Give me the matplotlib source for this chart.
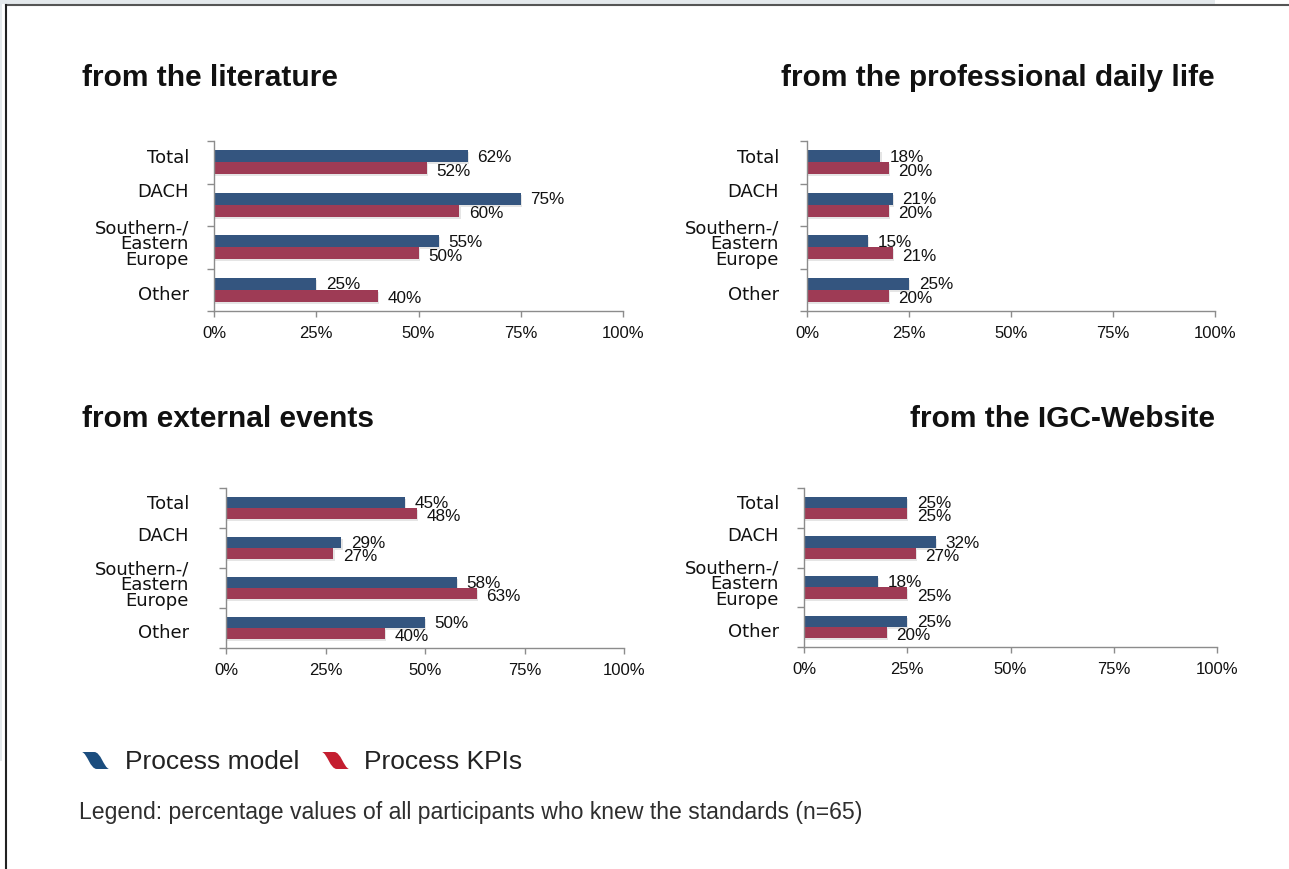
import matplotlib
matplotlib.use('Agg')
import matplotlib.pyplot as plt
import matplotlib.patheffects as pe
import matplotlib.transforms as mtransforms
from matplotlib.patches import Rectangle, PathPatch
from matplotlib.path import Path
from matplotlib.lines import Line2D
import numpy as np

# data
categories = ['Total', 'DACH', 'Southern-/\nEastern\nEurope', 'Other']
titles = ['from the literature', 'from the professional daily life',
          'from external events', 'from the IGC-Website']
series_names = ['Process model', 'Process KPIs']

literature_model = [62, 75, 55, 25]
literature_kpi = [52, 60, 50, 40]
daily_model = [18, 21, 15, 25]
daily_kpi = [20, 20, 21, 20]
events_model = [45, 29, 58, 50]
events_kpi = [48, 27, 63, 40]
website_model = [25, 32, 18, 25]
website_kpi = [25, 27, 25, 20]

x_ticks = [0, 25, 50, 75, 100]
footnote = 'Legend: percentage values of all participants who knew the standards (n=65)'

W, H = 1289, 870
BLUE = '#34557f'
RED = '#9e3b55'
SPINE = '#8c8c8c'

fig = plt.figure(figsize=(W / 100, H / 100), dpi=100)
fig.patch.set_facecolor('white')


def px_axes(left, top, right, bottom):
    return fig.add_axes([left / W, 1 - bottom / H, (right - left) / W, (bottom - top) / H])


# (left, top, right, bottom) in pixels, label pad in px, title x, title align, title baseline
panels = [
    ((214, 142, 623, 312), 25, 82, 'left', 86, literature_model, literature_kpi),
    ((807, 142, 1215, 312), 28, 1215, 'right', 86, daily_model, daily_kpi),
    ((226, 489, 624, 649), 37, 82, 'left', 427, events_model, events_kpi),
    ((804, 489, 1217, 648), 25, 1215, 'right', 427, website_model, website_kpi),
]
label_shift = [-0.12, -0.32, -0.1, 0.1]
bar_h = 0.28

shadow = [pe.SimplePatchShadow(offset=(0.8, -1.5), shadow_rgbFace='#999999', alpha=0.25), pe.Normal()]

for box, pad, tx, tha, tbase, model, kpi in panels:
    ax = px_axes(*box)
    y = np.arange(len(categories))
    b1 = ax.barh(y - bar_h / 2, model, height=bar_h, color=BLUE, edgecolor='none')
    b2 = ax.barh(y + bar_h / 2, kpi, height=bar_h, color=RED, edgecolor='none')
    for b in list(b1) + list(b2):
        b.set_path_effects(shadow)
    for yi, v in zip(y, model):
        ax.annotate(f'{v}%', (v, yi - bar_h / 2), xytext=(7, 0), textcoords='offset points',
                    va='center', ha='left', fontsize=12.3, family='Liberation Sans', color='#111111')
    for yi, v in zip(y, kpi):
        ax.annotate(f'{v}%', (v, yi + bar_h / 2), xytext=(7, -1.5), textcoords='offset points',
                    va='center', ha='left', fontsize=12.3, family='Liberation Sans', color='#111111')

    ax.set_xlim(0, 100)
    ax.set_ylim(len(categories) - 0.5, -0.5)
    ax.set_xticks(x_ticks)
    ax.set_xticklabels([f'{t}%' for t in x_ticks], fontsize=12, family='Liberation Sans')
    ax.set_yticks(np.arange(-0.5, len(categories) + 0.5, 1))
    ax.set_yticklabels([])
    ax.tick_params(axis='x', length=4, width=1, color=SPINE, pad=6, labelcolor='#111111')
    ax.tick_params(axis='y', length=5, width=1, color=SPINE, direction='out')
    for s in ['top', 'right']:
        ax.spines[s].set_visible(False)
    for s in ['left', 'bottom']:
        ax.spines[s].set_color(SPINE)
        ax.spines[s].set_linewidth(1)

    trans = mtransforms.blended_transform_factory(ax.transAxes, ax.transData)
    axw = box[2] - box[0]
    for yi, (cat, sh) in enumerate(zip(categories, label_shift)):
        ax.text(-pad / axw, yi + sh, cat, transform=trans, ha='right', va='center',
                fontsize=13, family='DejaVu Sans', linespacing=0.84, color='#111111')

for (box, pad, tx, tha, tbase, model, kpi), title in zip(panels, titles):
    fig.text(tx / W, 1 - tbase / H, title, ha=tha, va='baseline', fontsize=21.5,
             fontweight='bold', family='Liberation Sans', color='#111111')


# legend swoosh markers
def swoosh(x, y, w, h, color):
    verts = [(0, 1), (0.45, 1), (0.7, 1), (0.8, 0.1), (1, 0), (0.55, 0),
             (0.3, 0), (0.2, 0.9), (0, 1), (0, 1)]
    codes = [Path.MOVETO, Path.LINETO, Path.CURVE4, Path.CURVE4, Path.CURVE4,
             Path.LINETO, Path.CURVE4, Path.CURVE4, Path.CURVE4, Path.CLOSEPOLY]
    verts = [((x + vx * w) / W, 1 - (y + h - vy * h) / H) for vx, vy in verts]
    fig.add_artist(PathPatch(Path(verts, codes), facecolor=color, edgecolor='none',
                             transform=fig.transFigure))


swoosh(82, 753, 27, 17, '#1b4d7e')
swoosh(322, 753, 27, 17, '#c41e30')
fig.text(125 / W, 1 - 762 / H, series_names[0], ha='left', va='center', fontsize=19,
         family='Liberation Sans', color='#222222')
fig.text(364 / W, 1 - 762 / H, series_names[1], ha='left', va='center', fontsize=19,
         family='Liberation Sans', color='#222222')
fig.text(79 / W, 1 - 813 / H, footnote, ha='left', va='center', fontsize=16.6,
         family='Liberation Sans', color='#2e2e2e')

# page frame
fig.add_artist(Rectangle((0, 1 - 5 / H), 1215 / W, 5 / H, transform=fig.transFigure,
                         facecolor='#e4e9ec', edgecolor='none'))
fig.add_artist(Rectangle((0, 1 - 762 / H), 2 / W, 762 / H, transform=fig.transFigure,
                         facecolor='#e4e9ec', edgecolor='none'))
fig.add_artist(Line2D([6 / W, 1], [1 - 5.5 / H, 1 - 5.5 / H], transform=fig.transFigure,
                      color='#555555', linewidth=1.5))
fig.add_artist(Line2D([6 / W, 6 / W], [0, 1 - 5.5 / H], transform=fig.transFigure,
                      color='#222222', linewidth=1.5))

fig.savefig('out.png', dpi=100)
